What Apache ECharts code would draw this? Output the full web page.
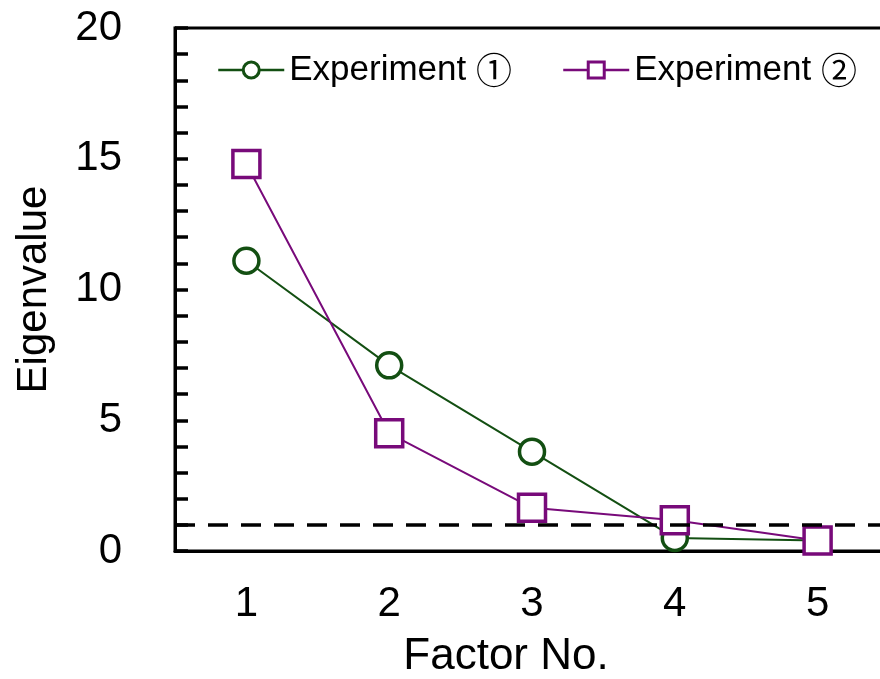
<!DOCTYPE html>
<html>
<head>
<meta charset="utf-8">
<script src="https://cdn.jsdelivr.net/npm/echarts@6/dist/echarts.min.js"></script>
<style>
  html, body { margin: 0; padding: 0; background: #fff; }
  #main { width: 880px; height: 679px; }
</style>
</head>
<body>
<div id="main"></div>
<script>
// 数据
const factors = ['1', '2', '3', '4', '5'];
const exp1 = [11.1, 7.1, 3.8, 0.5, 0.4];
const exp2 = [14.8, 4.5, 1.65, 1.18, 0.4];
const legendNames = ['Experiment \u2460', 'Experiment \u2461'];
const cutoff = 1;

const FONT = 'Liberation Sans, Arial, sans-serif';
const CJK = 'Noto Sans CJK JP';
const GREEN = '#134f12';
const PURPLE = '#780a7a';

let myChart = echarts.init(document.getElementById('main'));

let option = {
    animation: false,
    grid: {
        left: 175,
        top: 28,
        bottom: 128,
        right: -9,
        outerBoundsMode: 'none',
        containLabel: false,
        show: true,
        borderColor: '#000',
        borderWidth: 3
    },
    legend: {
        data: legendNames,
        left: 212,
        top: 47,
        itemWidth: 66,
        itemHeight: 20,
        itemGap: 50,
        itemStyle: { borderWidth: 3 },
        lineStyle: { width: 2.5 },
        formatter: function (name) {
            // 圆圈数字用 CJK 字体，尺寸更接近原图
            let parts = name.split(' ');
            return parts[0] + ' {c|' + parts[1] + '}';
        },
        textStyle: {
            fontFamily: FONT, fontSize: 35, color: '#000',
            rich: { c: { fontFamily: CJK, fontSize: 36, color: '#000' } }
        }
    },
    xAxis: {
        type: 'category',
        data: factors,
        boundaryGap: true,
        name: 'Factor No.',
        nameLocation: 'middle',
        nameGap: 84,
        nameTextStyle: { fontFamily: FONT, fontSize: 44, color: '#000', padding: [0, 52, 0, 0] },
        axisLine: { lineStyle: { color: '#000', width: 3 } },
        axisTick: { show: false },
        axisLabel: { fontFamily: FONT, fontSize: 42, color: '#000', margin: 32 },
        splitLine: { show: false }
    },
    yAxis: {
        type: 'value',
        min: 0,
        max: 20,
        interval: 5,
        name: 'Eigenvalue',
        nameLocation: 'middle',
        nameGap: 120,
        nameTextStyle: { fontFamily: FONT, fontSize: 42, color: '#000' },
        axisLine: { show: true, lineStyle: { color: '#000', width: 3 } },
        axisTick: { show: true, inside: true, length: 13, lineStyle: { color: '#000', width: 3.5 } },
        minorTick: { show: true, splitNumber: 5, length: 13, lineStyle: { color: '#000', width: 3.5 } },
        axisLabel: { fontFamily: FONT, fontSize: 42, color: '#000', margin: 53 },
        splitLine: { show: false }
    },
    series: [
        {
            name: legendNames[0],
            type: 'line',
            data: exp1,
            symbol: 'circle',
            symbolSize: 25,
            color: GREEN,
            lineStyle: { color: GREEN, width: 2 },
            itemStyle: { color: '#fff', borderColor: GREEN, borderWidth: 3.5 }
        },
        {
            name: legendNames[1],
            type: 'line',
            data: exp2,
            symbol: 'rect',
            symbolSize: 27,
            color: PURPLE,
            lineStyle: { color: PURPLE, width: 2 },
            itemStyle: { color: '#fff', borderColor: PURPLE, borderWidth: 3.5 },
            markLine: {
                silent: true,
                symbol: 'none',
                z: 10,
                label: { show: false },
                lineStyle: { color: '#000', width: 3.5, type: [20, 13] },
                data: [{ yAxis: cutoff }]
            }
        }
    ]
};

myChart.setOption(option);
</script>
</body>
</html>
